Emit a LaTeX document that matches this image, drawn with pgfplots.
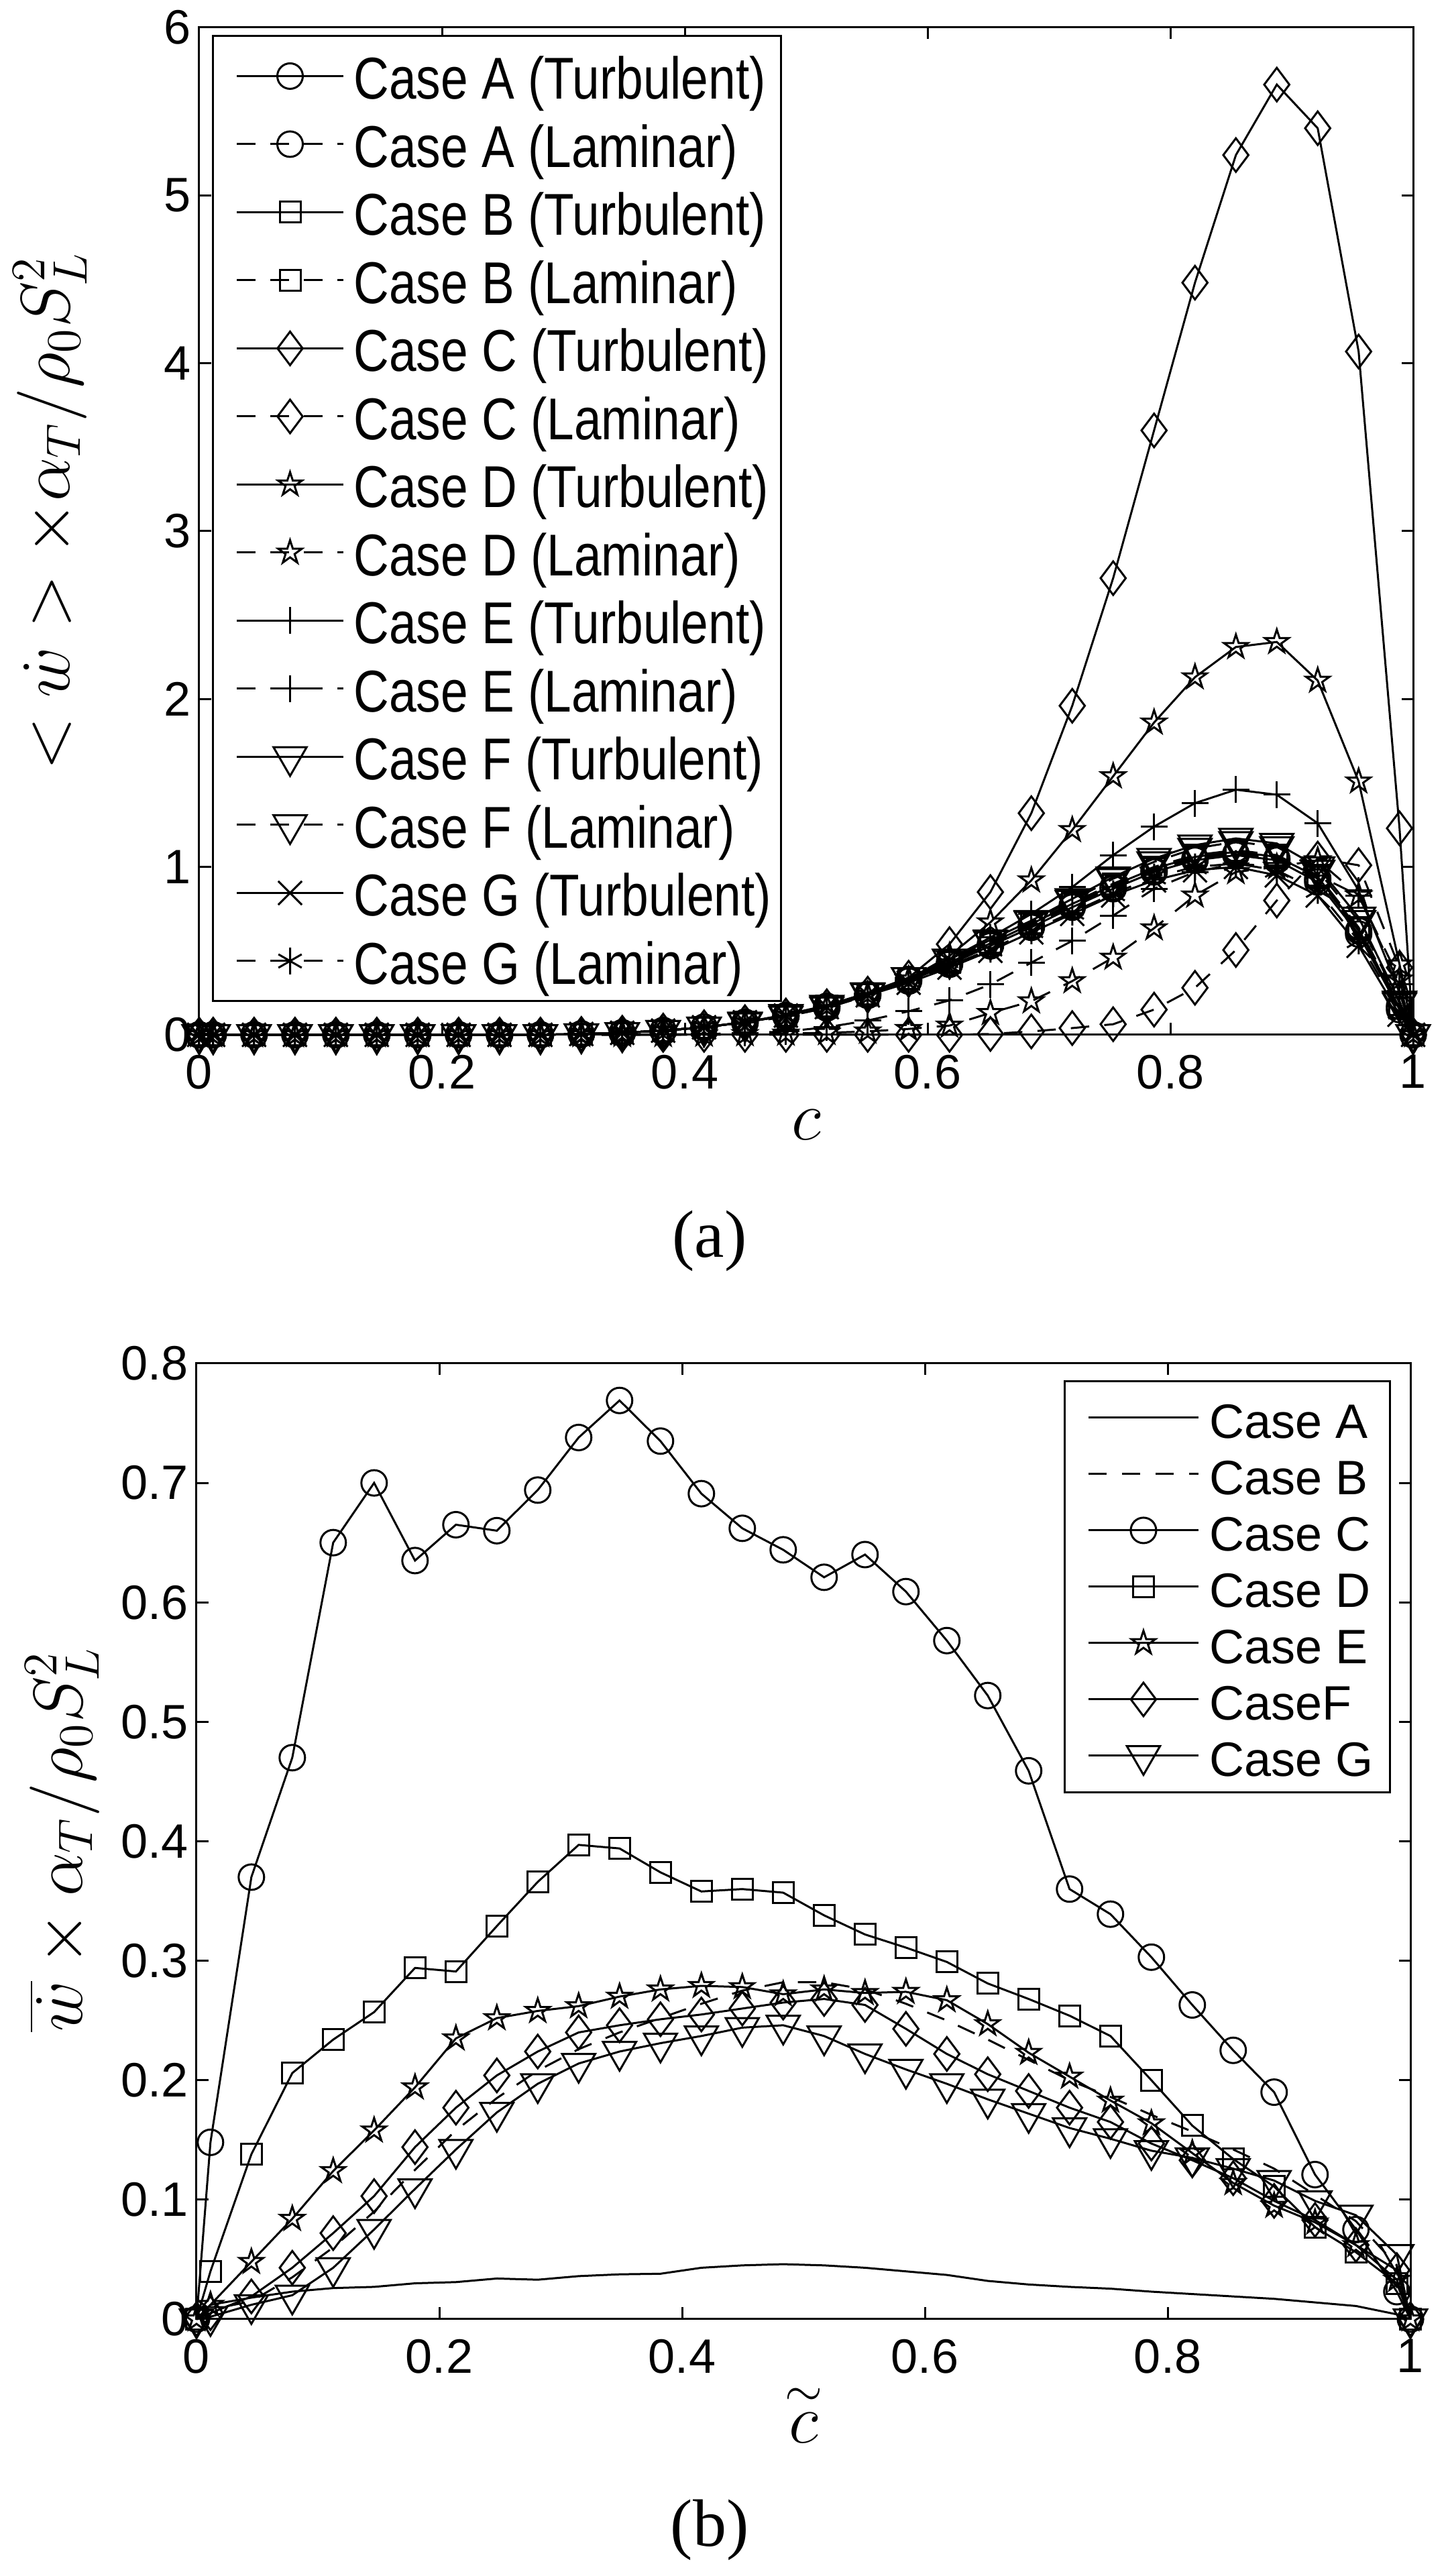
\documentclass[border=0pt]{standalone}
\usepackage[no-math]{fontspec}
\setmainfont{Liberation Sans}
\newfontfamily\legfont[FakeStretch=0.83]{Liberation Sans}
\newfontfamily\timesfont{Liberation Serif}
\usepackage{pgfplots}
\usepackage{pgfplotstable}
\pgfplotsset{compat=1.18}
\usetikzlibrary{plotmarks}

\pgfdeclareplotmark{pentagram}{%
  \pgfpathmoveto{\pgfpointpolar{90}{\pgfplotmarksize}}%
  \pgfpathlineto{\pgfpointpolar{126}{0.382\pgfplotmarksize}}%
  \pgfpathlineto{\pgfpointpolar{162}{\pgfplotmarksize}}%
  \pgfpathlineto{\pgfpointpolar{198}{0.382\pgfplotmarksize}}%
  \pgfpathlineto{\pgfpointpolar{234}{\pgfplotmarksize}}%
  \pgfpathlineto{\pgfpointpolar{270}{0.382\pgfplotmarksize}}%
  \pgfpathlineto{\pgfpointpolar{306}{\pgfplotmarksize}}%
  \pgfpathlineto{\pgfpointpolar{342}{0.382\pgfplotmarksize}}%
  \pgfpathlineto{\pgfpointpolar{18}{\pgfplotmarksize}}%
  \pgfpathlineto{\pgfpointpolar{54}{0.382\pgfplotmarksize}}%
  \pgfpathclose
  \pgfusepathqstroke
}

\pgfplotstableread{
x      At    Al    Bt    Bl    Ct    Cl    Dt    Dl    Et    El    Ft    Fl    Gt    Gl
0      0     0     0     0     0     0     0     0     0     0     0     0     0     0
0.0115 0     0     0     0     0     0     0     0     0     0     0     0     0     0
0.0452 0     0     0     0     0     0     0     0     0     0     0     0     0     0
0.0789 0     0     0     0     0     0     0     0     0     0     0     0     0     0
0.1126 0     0     0     0     0     0     0     0     0     0     0     0     0     0
0.1463 0     0     0     0     0     0     0     0     0     0     0     0     0     0
0.1800 0     0     0     0     0     0     0     0     0     0     0     0     0     0
0.2137 0     0     0     0     0     0     0     0     0     0     0     0     0     0
0.2474 0     0     0     0     0     0     0     0     0     0     0     0     0     0
0.2811 0     0     0     0     0     0     0     0     0     0     0     0     0     0
0.3148 0.005 0.005 0.005 0.005 0.005 0     0.005 0     0.005 0     0.005 0.005 0.005 0.005
0.3485 0.012 0.012 0.012 0.012 0.012 0     0.012 0     0.012 0     0.012 0.012 0.012 0.012
0.3822 0.025 0.025 0.025 0.025 0.025 0     0.025 0     0.025 0.002 0.025 0.025 0.025 0.025
0.4159 0.045 0.045 0.045 0.045 0.045 0     0.045 0.002 0.045 0.005 0.045 0.045 0.045 0.045
0.4496 0.075 0.070 0.075 0.070 0.075 0     0.075 0.005 0.075 0.010 0.075 0.070 0.075 0.070
0.4833 0.115 0.110 0.115 0.110 0.115 0     0.115 0.008 0.115 0.020 0.120 0.110 0.115 0.110
0.5170 0.170 0.160 0.170 0.165 0.170 0     0.170 0.012 0.170 0.045 0.175 0.165 0.165 0.160
0.5507 0.240 0.235 0.245 0.240 0.245 0     0.240 0.020 0.245 0.085 0.250 0.245 0.235 0.235
0.5844 0.320 0.330 0.330 0.335 0.340 0     0.330 0.035 0.330 0.140 0.340 0.340 0.310 0.320
0.6181 0.420 0.430 0.430 0.440 0.540 0     0.470 0.055 0.450 0.205 0.450 0.450 0.400 0.410
0.6518 0.530 0.540 0.545 0.550 0.850 0.005 0.670 0.130 0.580 0.300 0.565 0.560 0.500 0.510
0.6855 0.640 0.650 0.660 0.665 1.320 0.020 0.920 0.200 0.720 0.430 0.680 0.675 0.610 0.620
0.7192 0.760 0.770 0.780 0.785 1.960 0.040 1.220 0.320 0.880 0.560 0.810 0.800 0.720 0.730
0.7529 0.870 0.880 0.890 0.900 2.720 0.063 1.540 0.460 1.070 0.710 0.940 0.930 0.830 0.840
0.7866 0.970 0.980 0.990 1.000 3.600 0.150 1.860 0.635 1.240 0.870 1.050 1.030 0.920 0.940
0.8203 1.040 1.050 1.060 1.070 4.480 0.280 2.130 0.830 1.380 0.970 1.130 1.110 0.980 1.000
0.8540 1.070 1.080 1.090 1.100 5.240 0.505 2.310 0.970 1.460 1.020 1.170 1.150 1.000 1.020
0.8877 1.040 1.050 1.060 1.070 5.660 0.800 2.340 1.000 1.430 1.000 1.140 1.120 0.950 0.980
0.9214 0.910 0.930 0.940 0.950 5.400 1.050 2.110 1.040 1.260 0.950 1.000 0.980 0.830 0.860
0.9551 0.600 0.620 0.630 0.640 4.070 1.010 1.510 0.830 0.860 0.830 0.700 0.680 0.530 0.560
0.9888 0.150 0.170 0.160 0.180 1.230 0.400 0.420 0.330 0.250 0.300 0.200 0.190 0.120 0.140
1      0     0     0     0     0     0     0     0     0     0     0     0     0     0
}\topdata

\pgfplotstableread{
x      A      B     C     D     E     F     G
0      0      0     0     0     0     0     0
0.0115 0.012  0.008 0.148 0.040 0.012 0.005 0.002
0.0452 0.018  0.015 0.370 0.138 0.048 0.019 0.012
0.0789 0.023  0.035 0.470 0.206 0.084 0.043 0.020
0.1126 0.026  0.060 0.650 0.234 0.124 0.072 0.043
0.1463 0.027  0.090 0.700 0.257 0.158 0.103 0.075
0.1800 0.030  0.125 0.635 0.294 0.194 0.144 0.109
0.2137 0.031  0.158 0.665 0.291 0.235 0.177 0.142
0.2474 0.034  0.185 0.660 0.329 0.252 0.204 0.173
0.2811 0.033  0.208 0.694 0.366 0.258 0.224 0.197
0.3148 0.036  0.226 0.738 0.397 0.262 0.240 0.214
0.3485 0.0375 0.240 0.769 0.394 0.270 0.246 0.224
0.3822 0.038  0.252 0.735 0.374 0.276 0.251 0.231
0.4159 0.043  0.264 0.691 0.358 0.279 0.255 0.237
0.4496 0.045  0.275 0.662 0.360 0.278 0.260 0.244
0.4833 0.046  0.282 0.644 0.357 0.272 0.265 0.246
0.5170 0.045  0.282 0.621 0.338 0.276 0.268 0.237
0.5507 0.043  0.276 0.640 0.322 0.273 0.263 0.222
0.5844 0.040  0.264 0.609 0.311 0.274 0.243 0.209
0.6181 0.037  0.250 0.568 0.299 0.267 0.222 0.197
0.6518 0.032  0.234 0.522 0.281 0.247 0.205 0.184
0.6855 0.029  0.217 0.459 0.268 0.223 0.191 0.172
0.7192 0.027  0.200 0.360 0.254 0.203 0.177 0.160
0.7529 0.0255 0.186 0.339 0.237 0.183 0.165 0.151
0.7866 0.023  0.171 0.303 0.200 0.164 0.147 0.141
0.8203 0.021  0.157 0.263 0.162 0.139 0.133 0.135
0.8540 0.019  0.142 0.225 0.134 0.114 0.118 0.126
0.8877 0.017  0.126 0.190 0.111 0.095 0.099 0.116
0.9214 0.014  0.104 0.121 0.077 0.081 0.083 0.099
0.9551 0.011  0.082 0.075 0.056 0.062 0.062 0.087
0.9888 0.004  0.045 0.023 0.030 0.033 0.041 0.054
1      0      0     0     0     0     0     0
}\botdata

\pgfplotsset{
  myaxis/.style={
    scale only axis, width=362pt, xmin=0, xmax=1, clip=false,
    tick align=inside, major tick length=3.5pt,
    axis line style={line width=0.6pt},
    tick style={line width=0.6pt, black},
    xtick={0,0.2,0.4,0.6,0.8,1},
    /pgf/number format/assume math mode=true,
    tick label style={font=\fontsize{14.4}{17}\selectfont},
    xticklabel style={yshift=-2.5pt},
    yticklabel style={xshift=1pt},
    label style={font=\fontsize{21}{25}\selectfont},
    every axis plot/.append style={black, line width=0.6pt},
  },
  dsh/.style={dash pattern=on 5.5pt off 4.5pt},
}

\begin{document}
\begin{tikzpicture}
\useasboundingbox (0,0) rectangle (432.2pt,768.2pt);

% ---------- (a) ----------
\begin{axis}[myaxis,
  at={(59.4pt,459.6pt)}, anchor=south west,
  height=300.4pt, ymin=0, ymax=6, ytick={0,1,2,3,4,5,6},
  xlabel={$c$},
  xlabel style={at={(axis description cs:0.5,-0.0892)}, anchor=center},
  ylabel={$<\dot{w}>\times\alpha_T/\rho_0S_L^2$},
  ylabel style={at={(axis description cs:-0.1227,0.52)}, anchor=center},
  legend style={at={(axis description cs:0.0105,0.9927)}, anchor=north west,
    draw=black, line width=0.6pt, fill=white,
    font=\legfont\fontsize{17.6}{20}\selectfont,
    inner xsep=3pt, inner ysep=3pt, row sep=2.3pt, column sep=2.8pt,
    cells={anchor=west},
    nodes={inner sep=0pt, text height=15.9pt, text depth=2.1pt}},
  legend image code/.code={\path (0pt,0pt); \draw[mark repeat=2,mark phase=2,#1] plot coordinates {(3.8pt,0pt) (19.7pt,0pt) (35.6pt,0pt)};},
]
\addplot[mark=o, mark size=3.8pt] table[x=x,y=At] {\topdata};
\addlegendentry{Case A (Turbulent)}
\addplot[dsh, mark=o, mark size=3.8pt, mark options={solid}] table[x=x,y=Al] {\topdata};
\addlegendentry{Case A (Laminar)}
\addplot[mark=square, mark size=3.1pt] table[x=x,y=Bt] {\topdata};
\addlegendentry{Case B (Turbulent)}
\addplot[dsh, mark=square, mark size=3.1pt, mark options={solid}] table[x=x,y=Bl] {\topdata};
\addlegendentry{Case B (Laminar)}
\addplot[mark=diamond, mark size=5pt] table[x=x,y=Ct] {\topdata};
\addlegendentry{Case C (Turbulent)}
\addplot[dsh, mark=diamond, mark size=5pt, mark options={solid}] table[x=x,y=Cl] {\topdata};
\addlegendentry{Case C (Laminar)}
\addplot[mark=pentagram, mark size=3.7pt] table[x=x,y=Dt] {\topdata};
\addlegendentry{Case D (Turbulent)}
\addplot[dsh, mark=pentagram, mark size=3.7pt, mark options={solid}] table[x=x,y=Dl] {\topdata};
\addlegendentry{Case D (Laminar)}
\addplot[mark=+, mark size=4pt] table[x=x,y=Et] {\topdata};
\addlegendentry{Case E (Turbulent)}
\addplot[dsh, mark=+, mark size=4pt, mark options={solid}] table[x=x,y=El] {\topdata};
\addlegendentry{Case E (Laminar)}
\addplot[mark=triangle, mark size=5.7pt, mark options={rotate=180}] table[x=x,y=Ft] {\topdata};
\addlegendentry{Case F (Turbulent)}
\addplot[dsh, mark=triangle, mark size=5.7pt, mark options={solid,rotate=180}] table[x=x,y=Fl] {\topdata};
\addlegendentry{Case F (Laminar)}
\addplot[mark=x, mark size=5pt] table[x=x,y=Gt] {\topdata};
\addlegendentry{Case G (Turbulent)}
\addplot[dsh, mark=asterisk, mark size=4pt, mark options={solid}] table[x=x,y=Gl] {\topdata};
\addlegendentry{Case G (Laminar)}
\end{axis}

% ---------- (b) ----------
\begin{axis}[myaxis,
  at={(58.6pt,76.6pt)}, anchor=south west,
  height=285pt, ymin=0, ymax=0.8, ytick={0,0.1,0.2,0.3,0.4,0.5,0.6,0.7,0.8},
  xlabel={$\stackrel{\sim}{c}$},
  xlabel style={at={(axis description cs:0.5,-0.1004)}, anchor=center},
  ylabel={$\overline{\dot{w}}\times\alpha_T/\rho_0S_L^2$},
  ylabel style={at={(axis description cs:-0.1105,0.502)}, anchor=center},
  legend style={at={(axis description cs:0.984,0.9825)}, anchor=north east,
    draw=black, line width=0.6pt, fill=white,
    font=\fontsize{14.4}{17}\selectfont,
    inner xsep=5pt, inner ysep=3pt, row sep=1.0pt, column sep=3pt,
    cells={anchor=west},
    nodes={inner sep=0pt, text height=13.95pt, text depth=1.85pt}},
  legend image code/.code={\path (0pt,0pt); \draw[mark repeat=2,mark phase=2,#1] plot coordinates {(1.8pt,0pt) (18.2pt,0pt) (34.6pt,0pt)};},
]
\addplot[no marks] table[x=x,y=A] {\botdata};
\addlegendentry{Case A}
\addplot[no marks, dsh] table[x=x,y=B] {\botdata};
\addlegendentry{Case B}
\addplot[mark=o, mark size=3.8pt] table[x=x,y=C] {\botdata};
\addlegendentry{Case C}
\addplot[mark=square, mark size=3.1pt] table[x=x,y=D] {\botdata};
\addlegendentry{Case D}
\addplot[mark=pentagram, mark size=3.7pt] table[x=x,y=E] {\botdata};
\addlegendentry{Case E}
\addplot[mark=diamond, mark size=5pt] table[x=x,y=F] {\botdata};
\addlegendentry{CaseF}
\addplot[mark=triangle, mark size=5.7pt, mark options={rotate=180}] table[x=x,y=G] {\botdata};
\addlegendentry{Case G}
\end{axis}

\node[font=\timesfont\fontsize{20}{22}\selectfont] at (211.6pt,398.2pt) {(a)};
\node[font=\timesfont\fontsize{20}{22}\selectfont] at (211.6pt,13.8pt) {(b)};
\end{tikzpicture}
\end{document}
